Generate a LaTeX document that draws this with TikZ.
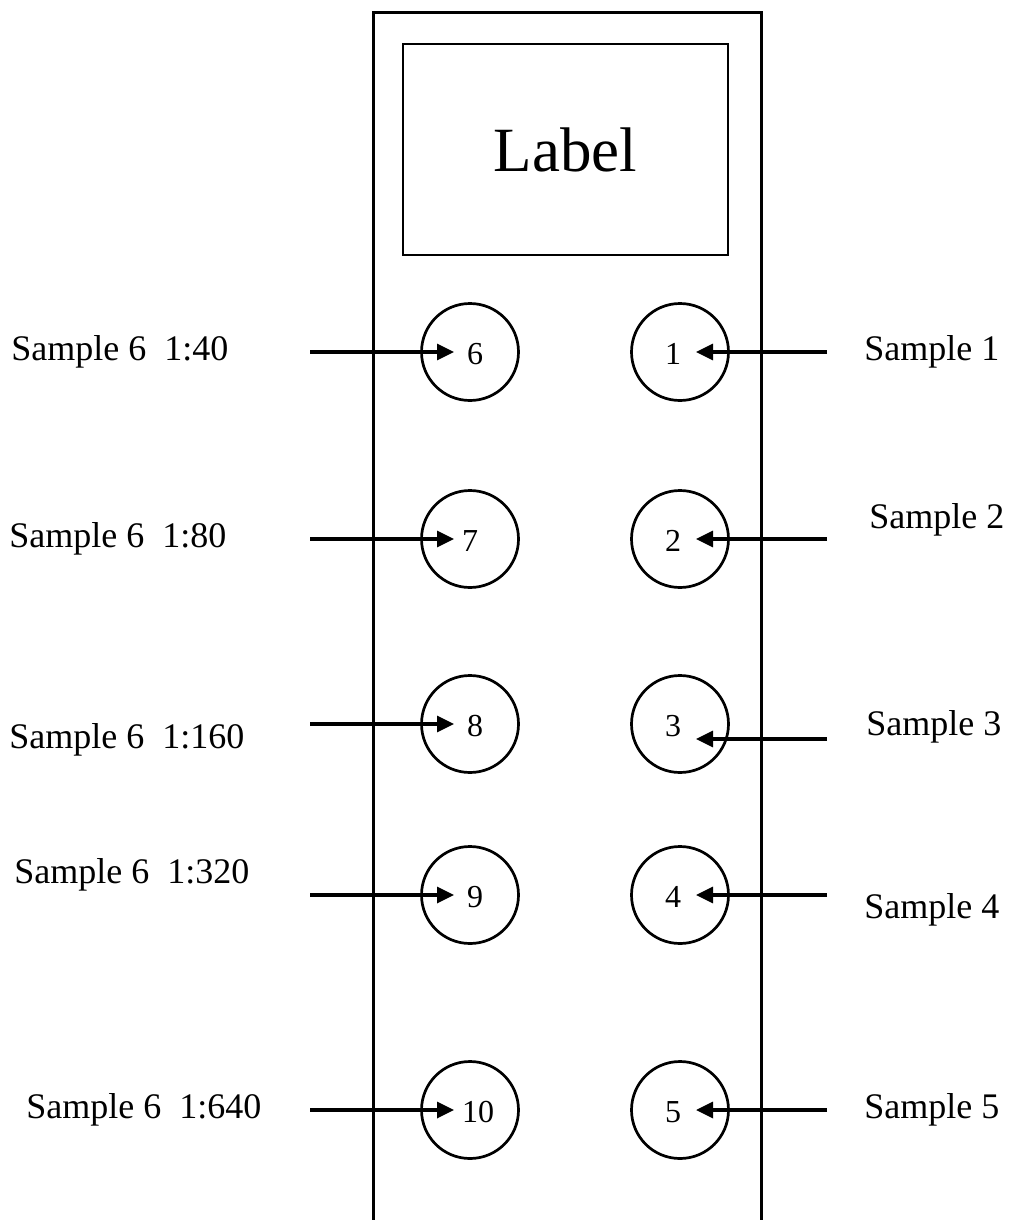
\documentclass[tikz,border=0pt]{standalone}
\usepackage{fontspec}
\setmainfont{Liberation Serif}
\usetikzlibrary{arrows.meta}
\begin{document}
\begin{tikzpicture}[x=0.5pt,y=-0.5pt,
  frame/.style={line width=1.5pt},
  well/.style={draw,circle,line width=1.35pt,minimum size=48.5pt,inner sep=0pt},
  num/.style={inner sep=0.5pt,font=\fontsize{16}{18}\selectfont},
  lbl/.style={anchor=west,inner sep=0pt,font=\fontsize{18}{21}\selectfont},
  feed/.style={line width=1.65pt,-{Triangle[length=8.5pt,width=8pt]}}]
\useasboundingbox (0,0) rectangle (1008,1220);
% strip
\draw[frame] (373,1225) |- (761,13) -- (761,1225);
\node[draw,line width=1.4pt,minimum width=162.5pt,minimum height=105.5pt,inner sep=0pt,
  font=\fontsize{31.5}{36}\selectfont] (lab) at (565.5,149.5) {Label};
% wells
\foreach \n/\y in {6/352,7/539,8/724,9/895,10/1110}{
  \node[well] (w\n) at (470,\y) {};
}
\foreach \n/\y in {1/352,2/539,3/724,4/895,5/1110}{
  \node[well] (w\n) at (680,\y) {};
}
% numbers
\node[num] (n6) at (475,354) {6};
\node[num] (n7) at (470,541) {7};
\node[num] (n8) at (475,726) {8};
\node[num] (n9) at (475,897) {9};
\node[num] (n10) at (478,1112) {10};
\node[num] (n1) at (673,354) {1};
\node[num] (n2) at (673,541) {2};
\node[num] (n3) at (673,726) {3};
\node[num] (n4) at (673,897) {4};
\node[num] (n5) at (673,1112) {5};
% arrow starts
\coordinate (s6) at (310,352);
\coordinate (s7) at (310,539);
\coordinate (s8) at (310,724);
\coordinate (s9) at (310,895);
\coordinate (s10) at (310,1110);
\coordinate (s1) at (827,352);
\coordinate (s2) at (827,539);
\coordinate (s3) at (827,739);
\coordinate (s4) at (827,895);
\coordinate (s5) at (827,1110);
% arrow tips
\coordinate (t6) at (454,352);
\coordinate (t7) at (454,539);
\coordinate (t8) at (454,724);
\coordinate (t9) at (454,895);
\coordinate (t10) at (454,1110);
\coordinate (t1) at (696,352);
\coordinate (t2) at (696,539);
\coordinate (t3) at (696,739);
\coordinate (t4) at (696,895);
\coordinate (t5) at (696,1110);
\foreach \n in {1,...,10}{ \draw[feed] (s\n) -- (t\n); }
% labels
\node[lbl] (L6) at (11,352) {Sample 6\hspace{0.5em}1:40};
\node[lbl] (L7) at (9,539) {Sample 6\hspace{0.5em}1:80};
\node[lbl] (L8) at (9,740) {Sample 6\hspace{0.5em}1:160};
\node[lbl] (L9) at (14,875) {Sample 6\hspace{0.5em}1:320};
\node[lbl] (L10) at (26,1110) {Sample 6\hspace{0.5em}1:640};
\node[lbl] (L1) at (864,352) {Sample 1};
\node[lbl] (L2) at (869,520) {Sample 2};
\node[lbl] (L3) at (866,727) {Sample 3};
\node[lbl] (L4) at (864,910) {Sample 4};
\node[lbl] (L5) at (864,1110) {Sample 5};
\end{tikzpicture}
\end{document}
